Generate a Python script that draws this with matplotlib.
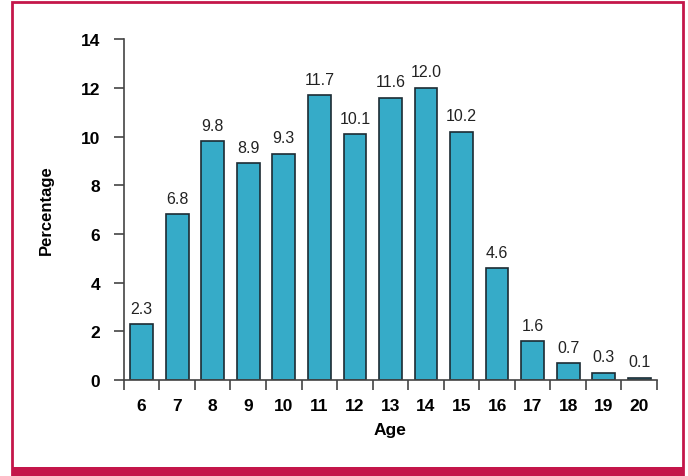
import numpy as np
import matplotlib.pyplot as plt
from matplotlib.patches import Rectangle

plt.rcParams['font.family'] = ['Liberation Sans', 'DejaVu Sans']

ages = [6, 7, 8, 9, 10, 11, 12, 13, 14, 15, 16, 17, 18, 19, 20]
pct = [2.3, 6.8, 9.8, 8.9, 9.3, 11.7, 10.1, 11.6, 12.0, 10.2, 4.6, 1.6, 0.7, 0.3, 0.1]

fig = plt.figure(figsize=(6.88, 4.77), dpi=100)
ax = fig.add_axes([0.180, 0.201, 0.775, 0.715])

bars = ax.bar(ages, pct, width=0.64, color='#36abc8', edgecolor='#1c2b33', linewidth=1.2)
for x, v in zip(ages, pct):
    ax.text(x, v + 0.35, f'{v:.1f}', ha='center', va='bottom', fontsize=11.5, color='#222222')

ax.set_xlim(5.5, 20.5)
ax.set_ylim(0, 14)
ax.set_yticks(np.arange(0, 15, 2))
ax.set_xticks(np.arange(5.5, 21, 1))
ax.set_xticklabels([])
ax.set_xticks(ages, minor=True)
ax.set_xticklabels([str(a) for a in ages], minor=True, fontweight='bold', fontsize=12.5)
ax.tick_params(axis='x', which='minor', length=0, pad=13)
ax.tick_params(axis='x', which='major', length=7, width=1.2, color='#444444')
ax.tick_params(axis='y', length=7, width=1.2, color='#444444', labelsize=12.5, pad=10)
for lab in ax.get_yticklabels():
    lab.set_fontweight('bold')

for s in ['top', 'right']:
    ax.spines[s].set_visible(False)
for s in ['left', 'bottom']:
    ax.spines[s].set_color('#444444')
    ax.spines[s].set_linewidth(1.2)

ax.set_xlabel('Age', fontweight='bold', fontsize=12.5, labelpad=6)
ax.set_ylabel('Percentage', fontweight='bold', fontsize=12, labelpad=19)

red = '#c4164a'
fig.patches.append(Rectangle((0.017, 0.0), 0.976, 0.993, transform=fig.transFigure,
                             fill=False, edgecolor=red, linewidth=2))
fig.patches.append(Rectangle((0.017, 0.0), 0.976, 0.018, transform=fig.transFigure,
                             facecolor=red, edgecolor='none'))

fig.savefig('out.png', dpi=100)
